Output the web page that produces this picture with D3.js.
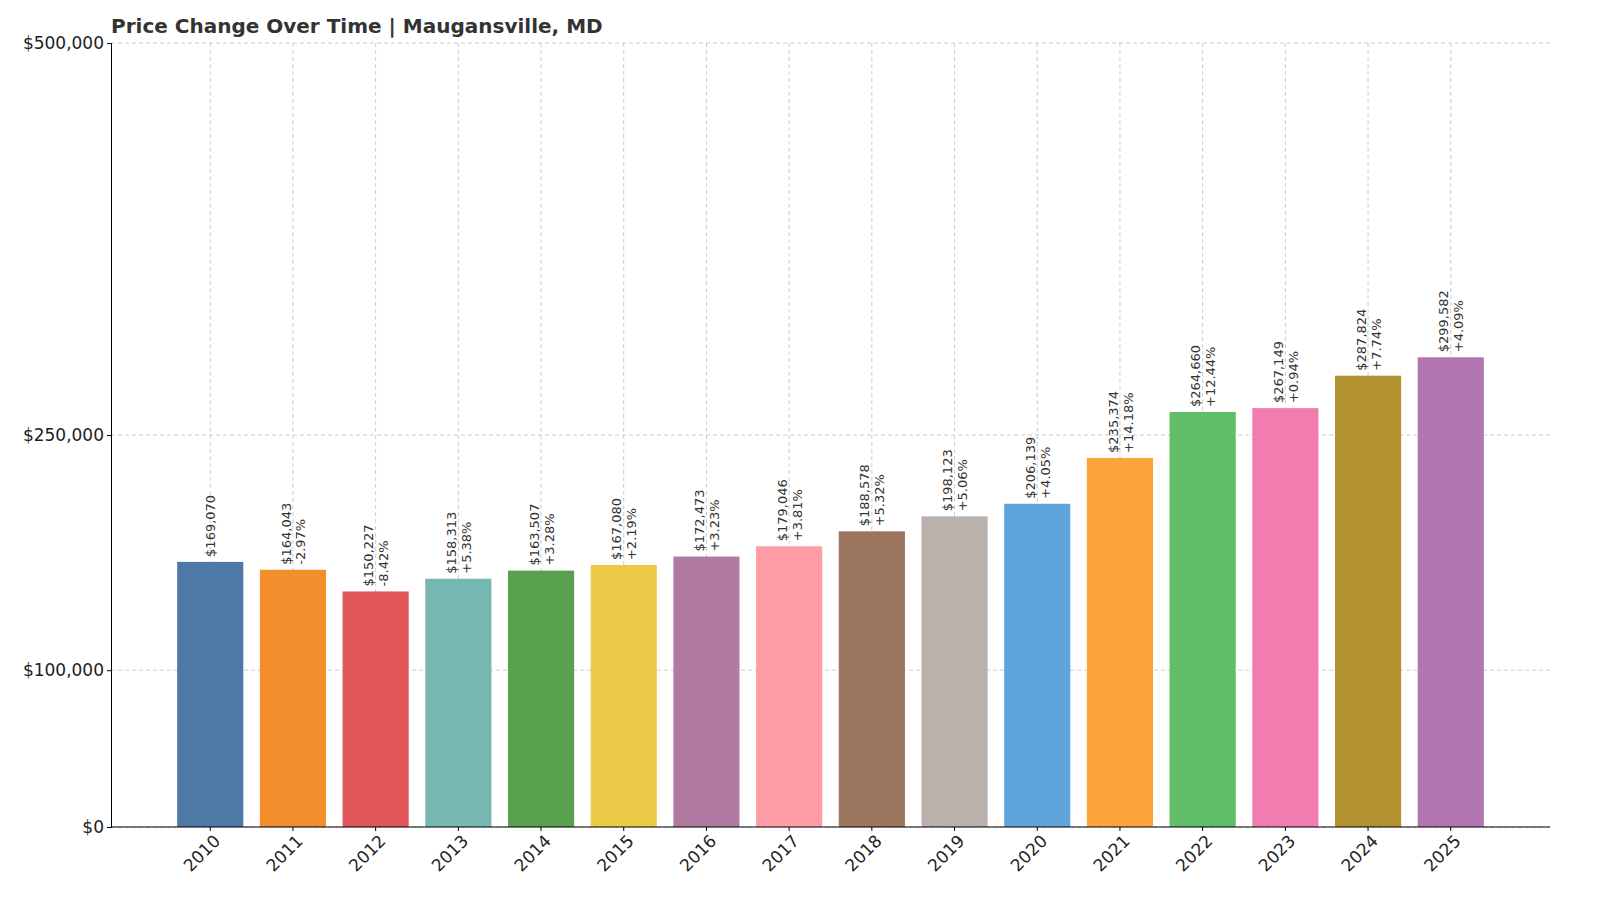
<!DOCTYPE html>
<html><head><meta charset="utf-8">
<script src="https://cdn.jsdelivr.net/npm/d3@7"></script>
<style>body{margin:0;background:#fff;font-family:"DejaVu Sans",sans-serif}</style>
</head><body><svg id="c" width="1600" height="914"></svg>
<script>
const years=["2010","2011","2012","2013","2014","2015","2016","2017","2018","2019","2020","2021","2022","2023","2024","2025"];
const values=[169070,164043,150227,158313,163507,167080,172473,179046,188578,198123,206139,235374,264660,267149,287824,299582];
const changes=["","-2.97%","-8.42%","+5.38%","+3.28%","+2.19%","+3.23%","+3.81%","+5.32%","+5.06%","+4.05%","+14.18%","+12.44%","+0.94%","+7.74%","+4.09%"];
const colors=["#4e79a7","#f28e2b","#e15759","#76b7b2","#59a14f","#edc948","#b07aa1","#ff9da7","#9c755f","#bab0ac","#5fa4db","#faa43a","#60bd68","#f17cb0","#b2912f","#b276b2"];
const yTicks=[0,100000,250000,500000];
const svg=d3.select("#c");
const L=111,R=1550,T=43,B=827;
const x=d3.scaleBand().domain(years).range([L,R]).paddingInner(0.2).paddingOuter(0.8);
const y=d3.scaleLinear().domain([0,500000]).range([B,T]);
const g=svg.append("g");
g.selectAll(".gy").data(yTicks).join("line").attr("x1",L).attr("x2",R).attr("y1",d=>y(d)).attr("y2",d=>y(d)).attr("stroke","#ccc").attr("stroke-dasharray","4,3");
g.selectAll(".gx").data(years).join("line").attr("x1",d=>x(d)+x.bandwidth()/2).attr("x2",d=>x(d)+x.bandwidth()/2).attr("y1",T).attr("y2",B).attr("stroke","#ccc").attr("stroke-dasharray","4,3");
svg.selectAll("rect.b").data(years).join("rect").attr("x",d=>x(d)).attr("width",x.bandwidth()).attr("y",(d,i)=>y(values[i])).attr("height",(d,i)=>B-y(values[i])).attr("fill",(d,i)=>colors[i]);
const ya=svg.append("g").attr("transform",`translate(${L},0)`).call(d3.axisLeft(y).tickValues(yTicks).tickFormat(d=>"$"+d3.format(",")(d)).tickSize(4));
ya.selectAll("text").attr("font-size",17).attr("fill","#222").attr("font-family","DejaVu Sans");
ya.select(".domain").attr("stroke","#000");
const xa=svg.append("g").attr("transform",`translate(0,${B})`).call(d3.axisBottom(x).tickSize(4));
xa.select(".domain").attr("stroke","#000").attr("d",`M${L},0H${R}`);
xa.selectAll("text").attr("font-size",17).attr("fill","#222").attr("font-family","DejaVu Sans").attr("text-anchor","end").attr("transform","translate(4,8) rotate(-45)").attr("dy","0.35em").attr("y",4);
years.forEach((yr,i)=>{
  const cx=x(yr)+x.bandwidth()/2, top=y(values[i])-5;
  const lines=changes[i]?["$"+d3.format(",")(values[i]),changes[i]]:["$"+d3.format(",")(values[i])];
  const t=svg.append("text").attr("transform",`translate(${cx},${top}) rotate(-90)`).attr("font-size",13).attr("fill","#333").attr("font-family","DejaVu Sans");
  const off=lines.length==2?-7:0;
  lines.forEach((s,k)=>t.append("tspan").attr("x",0).attr("y",off+k*15).attr("dy","0.35em").text(s));
});
svg.append("text").attr("x",L).attr("y",33).attr("font-size",20).attr("font-weight","bold").attr("fill","#333").text("Price Change Over Time | Maugansville, MD");
</script></body></html>
